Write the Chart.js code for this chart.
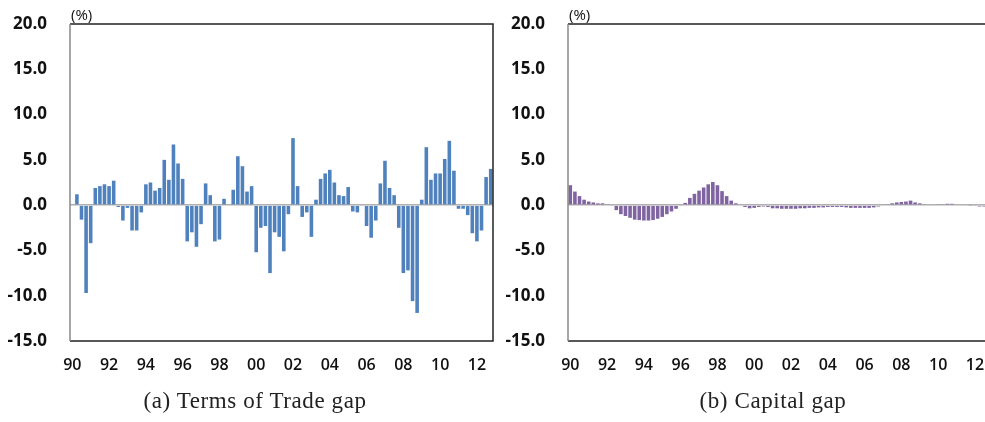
<!DOCTYPE html>
<html>
<head>
<meta charset="utf-8">
<script src="https://cdn.jsdelivr.net/npm/chart.js@4.4.1/dist/chart.umd.min.js"></script>
<style>
  body { margin: 0; width: 985px; height: 422px; overflow: hidden; background: #fff; position: relative; }
  .panel { position: absolute; top: 0; width: 500px; height: 390px; }
  .caption { position: absolute; top: 388px; font-family: "Liberation Serif", "DejaVu Serif", serif; font-size: 23px; letter-spacing: 0.6px; color: #222; white-space: nowrap; transform: translateX(-50%); }
</style>
</head>
<body>
<div class="panel" style="left:0px"><canvas id="totChart"></canvas></div>
<div class="panel" style="left:498px"><canvas id="capChart"></canvas></div>
<div class="caption" style="left:255px">(a) Terms of Trade gap</div>
<div class="caption" style="left:773px">(b) Capital gap</div>
<script>
// quarters 1990Q1 .. 2012Q4
const quarters = [];
for (let y = 1990; y <= 2012; y++) {
    for (let q = 1; q <= 4; q++) quarters.push(y + 'Q' + q);
}

const yTicks = [-15, -10, -5, 0, 5, 10, 15, 20];

const totGap = [
    0.1, 1.2, -1.6, -9.7, -4.2, 1.9, 2.1, 2.3, 2.1, 2.7,
    -0.2, -1.7, -0.3, -2.8, -2.8, -0.8, 2.3, 2.5, 1.6, 1.9,
    5.0, 2.8, 6.7, 4.6, 2.9, -4.0, -3.0, -4.6, -2.1, 2.4,
    1.1, -4.0, -3.8, 0.7, 0.0, 1.7, 5.4, 4.3, 1.5, 2.1,
    -5.2, -2.5, -2.3, -7.5, -3.0, -3.5, -5.1, -1.0, 7.4, 2.1,
    -1.3, -0.8, -3.5, 0.6, 2.9, 3.5, 3.9, 2.5, 1.1, 1.0,
    2.0, -0.7, -0.8, -0.1, -2.3, -3.6, -1.7, 2.4, 4.9, 1.9,
    1.1, -2.5, -7.5, -7.2, -10.6, -11.9, 0.6, 6.4, 2.8, 3.5,
    3.5, 5.1, 7.1, 3.8, -0.4, -0.4, -1.1, -3.1, -4.0, -2.8,
    3.1, 4.0
];

const capGap = [
    2.2, 1.5, 1.0, 0.6, 0.4, 0.3, 0.2, 0.2, 0.1, -0.1,
    -0.55, -1.0, -1.2, -1.4, -1.6, -1.65, -1.7, -1.7, -1.65, -1.5,
    -1.3, -1.0, -0.7, -0.4, -0.1, 0.25, 0.8, 1.25, 1.6, 1.95,
    2.3, 2.55, 2.2, 1.55, 1.0, 0.5, 0.2, 0.0, -0.2, -0.35,
    -0.3, -0.2, -0.15, -0.2, -0.35, -0.35, -0.4, -0.4, -0.4, -0.4,
    -0.35, -0.35, -0.3, -0.3, -0.25, -0.25, -0.2, -0.2, -0.2, -0.2,
    -0.25, -0.3, -0.3, -0.3, -0.3, -0.3, -0.25, -0.15, 0.0, 0.1,
    0.2, 0.3, 0.35, 0.4, 0.5, 0.3, 0.2, 0.1, 0.0, 0.0,
    0.1, 0.1, 0.15, 0.15, 0.0, 0.0, 0.0, -0.05, -0.1, -0.15,
    -0.15, -0.15
];

// box round plot area, gray left side, and the (%) unit
const framePlugin = {
    id: 'frame',
    afterDraw(chart) {
        const a = chart.chartArea;
        const ctx = chart.ctx;
        ctx.save();
        ctx.lineWidth = 1.5;
        ctx.strokeStyle = '#222';
        ctx.beginPath();
        ctx.moveTo(a.left, a.top);
        ctx.lineTo(a.right, a.top);
        ctx.lineTo(a.right, a.bottom);
        ctx.lineTo(a.left, a.bottom);
        ctx.stroke();
        ctx.strokeStyle = '#888';
        ctx.beginPath();
        ctx.moveTo(a.left, a.top);
        ctx.lineTo(a.left, a.bottom);
        ctx.stroke();
        ctx.fillStyle = '#111';
        ctx.font = '15px "Open Sans", sans-serif';
        ctx.textAlign = 'left';
        ctx.textBaseline = 'bottom';
        ctx.fillText('(%)', a.left + 1, a.top - 1);
        ctx.restore();
    }
};

function makeChart(id, values, color) {
    const ctx = document.getElementById(id).getContext('2d');
    return new Chart(ctx, {
        type: 'bar',
        data: {
            labels: quarters,
            datasets: [{
                data: values,
                backgroundColor: color,
                barPercentage: 0.78,
                categoryPercentage: 1.0
            }]
        },
        options: {
            responsive: false,
            animation: false,
            layout: { padding: { top: 24, right: 7, left: 0, bottom: 0 } },
            plugins: { legend: { display: false }, tooltip: { enabled: false } },
            scales: {
                x: {
                    grid: { display: false, drawTicks: false },
                    border: { display: false },
                    ticks: {
                        autoSkip: false,
                        maxRotation: 0,
                        padding: 15,
                        color: '#111',
                        font: { family: 'Open Sans', size: 16, weight: '600' },
                        callback: function(value) {
                            const lab = this.getLabelForValue(value);
                            const yr = parseInt(lab.slice(0, 4));
                            if (lab.endsWith('Q1') && yr % 2 === 0) return lab.slice(2, 4);
                            return '';
                        }
                    },
                    afterFit: function(scale) {
                        scale.height = 49;
                        scale.paddingLeft = 0;
                        scale.paddingRight = 0;
                    }
                },
                y: {
                    min: -15,
                    max: 20,
                    afterBuildTicks: function(scale) {
                        scale.ticks = yTicks.map(function(v) { return { value: v }; });
                    },
                    grid: {
                        drawTicks: false,
                        lineWidth: 1.5,
                        color: function(c) { return c.tick && c.tick.value === 0 ? '#b0b0b0' : 'rgba(0,0,0,0)'; }
                    },
                    border: { display: false },
                    ticks: {
                        padding: 23,
                        color: '#111',
                        font: { family: 'Open Sans', size: 17, weight: 'bold' },
                        callback: function(v) { return v.toFixed(1); }
                    },
                    afterFit: function(scale) {
                        scale.width = 70;
                        scale.paddingTop = 0;
                        scale.paddingBottom = 0;
                    }
                }
            }
        },
        plugins: [framePlugin]
    });
}

function sizeCanvas(id) {
    const c = document.getElementById(id);
    c.width = 500;
    c.height = 390;
    c.style.width = '500px';
    c.style.height = '390px';
}

sizeCanvas('totChart');
sizeCanvas('capChart');
makeChart('totChart', totGap, '#4f81bd');
makeChart('capChart', capGap, '#8064a2');
</script>
</body>
</html>
